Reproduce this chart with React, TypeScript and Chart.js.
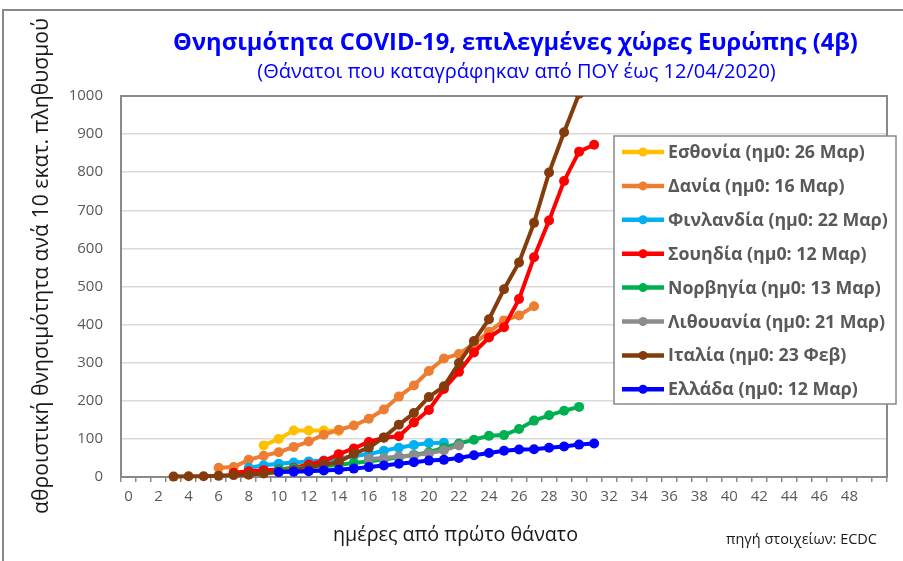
import React, { useEffect, useRef } from 'react';
import { Chart, registerables } from 'chart.js';
Chart.register(...registerables);

// ---------- data ----------
const dayLabels = ['0','1','2','3','4','5','6','7','8','9','10','11','12','13','14','15','16','17','18','19','20','21','22','23','24','25','26','27','28','29','30','31','32','33','34','35','36','37','38','39','40','41','42','43','44','45','46','47','48','49','50'];
const shownTickLabels = ['0','2','4','6','8','10','12','14','16','18','20','22','24','26','28','30','32','34','36','38','40','42','44','46','48'];

const seriesNames = [
  'Εσθονία (ημ0: 26 Μαρ)',
  'Δανία (ημ0: 16 Μαρ)',
  'Φινλανδία (ημ0: 22 Μαρ)',
  'Σουηδία (ημ0: 12 Μαρ)',
  'Νορβηγία (ημ0: 13 Μαρ)',
  'Λιθουανία (ημ0: 21 Μαρ)',
  'Ιταλία (ημ0: 23 Φεβ)',
  'Ελλάδα (ημ0: 12 Μαρ)',
];

const estoniaStart = 9;
const estoniaValues = [83, 100, 122, 122, 122, 121];
const denmarkStart = 6;
const denmarkValues = [24, 26, 45, 56, 65, 79, 93, 111, 124, 135, 153, 177, 211, 240, 278, 311, 323, 350, 381, 411, 424, 448];
const finlandStart = 8;
const finlandValues = [24, 31, 35, 38, 41, 43, 48, 55, 60, 69, 77, 84, 89, 90];
const swedenStart = 7;
const swedenValues = [11, 15, 18, 20, 24, 33, 42, 60, 75, 92, 103, 107, 143, 176, 231, 276, 327, 366, 393, 467, 577, 673, 777, 854, 872];
const norwayStart = 10;
const norwayValues = [19, 22, 25, 28, 32, 37, 41, 46, 52, 58, 65, 77, 88, 98, 108, 110, 126, 148, 162, 174, 184];
const lithuaniaStart = 16;
const lithuaniaValues = [47, 50, 54, 57, 62, 70, 83];
const italyStart = 3;
const italyValues = [1, 2, 2, 3, 5, 6, 9, 13, 18, 25, 33, 39, 61, 77, 104, 137, 168, 210, 238, 299, 357, 414, 493, 563, 667, 799, 905, 1006, 1129];
const greeceStart = 10;
const greeceValues = [13, 14, 15, 17, 19, 22, 26, 30, 35, 39, 43, 45, 50, 57, 63, 69, 72, 73, 77, 80, 85, 88];

const titleText = 'Θνησιμότητα COVID-19, επιλεγμένες χώρες Ευρώπης (4β)';
const subtitleText = '(Θάνατοι που καταγράφηκαν από ΠΟΥ έως 12/04/2020)';
const yTitleText = 'αθροιστική θνησιμότητα ανά 10 εκατ. πληθυσμού';
const xTitleText = 'ημέρες από πρώτο θάνατο';
const sourceText = 'πηγή στοιχείων: ECDC';

// ---------- styles ----------
const seriesColors = ['#FFC000', '#ED7D31', '#00B0F0', '#FF0000', '#00B050', '#8C8C8C', '#843C0C', '#0000FF'];
const FONT = '"Open Sans", "Noto Sans", "DejaVu Sans", sans-serif';

function pad(start: number, values: number[]) {
  const out: (number | null)[] = dayLabels.map(() => null);
  values.forEach((v, i) => { out[start + i] = v; });
  return out;
}

function fitFont(ctx: CanvasRenderingContext2D, text: string, weight: string, target: number) {
  ctx.font = `${weight} 20px ${FONT}`;
  const w = ctx.measureText(text).width;
  const size = (20 * target) / w;
  return `${weight} ${size.toFixed(2)}px ${FONT}`;
}

const decorPlugin = {
  id: 'decor',
  beforeDraw(chart: any) {
    const ctx = chart.ctx as CanvasRenderingContext2D;
    ctx.save();
    ctx.fillStyle = '#ffffff';
    ctx.fillRect(0, 0, chart.width, chart.height);
    ctx.strokeStyle = '#898989';
    ctx.lineWidth = 2;
    ctx.beginPath();
    ctx.moveTo(3, chart.height);
    ctx.lineTo(3, 10);
    ctx.lineTo(chart.width, 10);
    ctx.stroke();
    ctx.restore();
  },
  beforeDatasetsDraw(chart: any) {
    const ctx = chart.ctx as CanvasRenderingContext2D;
    const a = chart.chartArea;
    ctx.save();
    ctx.strokeStyle = '#898989';
    ctx.lineWidth = 2;
    ctx.strokeRect(a.left, a.top, a.right - a.left, a.bottom - a.top);
    ctx.restore();
  },
  afterDraw(chart: any) {
    const ctx = chart.ctx as CanvasRenderingContext2D;
    ctx.save();
    ctx.textAlign = 'center';
    ctx.textBaseline = 'middle';
    // titles
    ctx.fillStyle = '#0000FF';
    ctx.font = fitFont(ctx, titleText, 'bold', 685);
    ctx.fillText(titleText, 515.5, 43);
    ctx.font = fitFont(ctx, subtitleText, 'normal', 519);
    ctx.fillText(subtitleText, 516.5, 72);
    // axis titles
    ctx.fillStyle = '#1a1a1a';
    ctx.font = fitFont(ctx, xTitleText, 'normal', 245);
    ctx.fillText(xTitleText, 455.5, 535);
    ctx.font = fitFont(ctx, sourceText, 'normal', 151);
    ctx.fillText(sourceText, 801.5, 540);
    ctx.save();
    ctx.translate(42, 266);
    ctx.rotate(-Math.PI / 2);
    ctx.font = fitFont(ctx, yTitleText, 'normal', 496);
    ctx.fillText(yTitleText, 0, 0);
    ctx.restore();
    // legend
    const lx = 614, ly = 136, lw = 282, lh = 268;
    ctx.fillStyle = '#ffffff';
    ctx.fillRect(lx, ly, lw, lh);
    ctx.strokeStyle = '#898989';
    ctx.lineWidth = 1.5;
    ctx.strokeRect(lx, ly, lw, lh);
    const legendFont = fitFont(ctx, chart.data.datasets[0].label, 'bold', 197);
    ctx.textAlign = 'left';
    chart.data.datasets.forEach((ds: any, i: number) => {
      const y = 152 + i * 33.9;
      ctx.strokeStyle = ds.borderColor;
      ctx.lineWidth = 4.5;
      ctx.beginPath();
      ctx.moveTo(622, y);
      ctx.lineTo(664, y);
      ctx.stroke();
      ctx.fillStyle = ds.borderColor;
      ctx.beginPath();
      ctx.arc(643, y, 4.5, 0, Math.PI * 2);
      ctx.fill();
      ctx.fillStyle = '#595959';
      ctx.font = legendFont;
      ctx.fillText(ds.label, 668, y + 1);
    });
    ctx.restore();
  },
};

export default function App() {
  const ref = useRef<HTMLCanvasElement>(null);
  useEffect(() => {
    const canvas = ref.current!;
    Chart.defaults.font.family = FONT;
    const allValues = [
      pad(estoniaStart, estoniaValues),
      pad(denmarkStart, denmarkValues),
      pad(finlandStart, finlandValues),
      pad(swedenStart, swedenValues),
      pad(norwayStart, norwayValues),
      pad(lithuaniaStart, lithuaniaValues),
      pad(italyStart, italyValues),
      pad(greeceStart, greeceValues),
    ];
    const datasets = allValues.map((data, i) => ({
      label: seriesNames[i],
      data,
      borderColor: seriesColors[i],
      backgroundColor: seriesColors[i],
      pointBackgroundColor: seriesColors[i],
      pointBorderColor: seriesColors[i],
      pointBorderWidth: 0,
      pointRadius: 5,
      borderWidth: 4,
      tension: 0,
      spanGaps: false,
      order: 7 - i,
      clip: { left: 10, right: 10, top: 0, bottom: 10 } as any,
    }));
    const chart = new Chart(canvas, {
      type: 'line',
      data: { labels: dayLabels, datasets },
      options: {
        responsive: false,
        devicePixelRatio: 1,
        animation: false,
        layout: { padding: { top: 96, right: 16, left: 0, bottom: 0 } },
        plugins: { legend: { display: false }, title: { display: false }, tooltip: { enabled: false } },
        scales: {
          x: {
            type: 'category',
            offset: true,
            grid: { offset: true, drawOnChartArea: false, drawTicks: true, tickLength: 5, color: '#898989', lineWidth: 1.5 },
            border: { display: true, color: '#898989', width: 2 },
            ticks: {
              autoSkip: false,
              maxRotation: 0,
              minRotation: 0,
              padding: 6,
              color: '#595959',
              font: { size: 15 },
              callback: (_v: any, i: number) => (shownTickLabels.includes(dayLabels[i]) ? dayLabels[i] : ''),
            },
            afterFit: (s: any) => { s.height = 84; },
          },
          y: {
            min: 0,
            max: 1000,
            ticks: {
              stepSize: 100,
              padding: 18,
              color: '#595959',
              font: { size: 15 },
              callback: (v: any) => String(v),
            },
            grid: { color: '#D9D9D9', lineWidth: 1.5, drawTicks: false },
            border: { display: true, color: '#898989', width: 2 },
            afterFit: (s: any) => { s.width = 121; },
          },
        },
      },
      plugins: [decorPlugin],
    });
    return () => chart.destroy();
  }, []);
  return (
    <div style={{ position: 'fixed', left: 0, top: 0, width: 903, height: 561, background: '#fff' }}>
      <canvas ref={ref} width={903} height={561} style={{ display: 'block', width: 903, height: 561 }} />
    </div>
  );
}
